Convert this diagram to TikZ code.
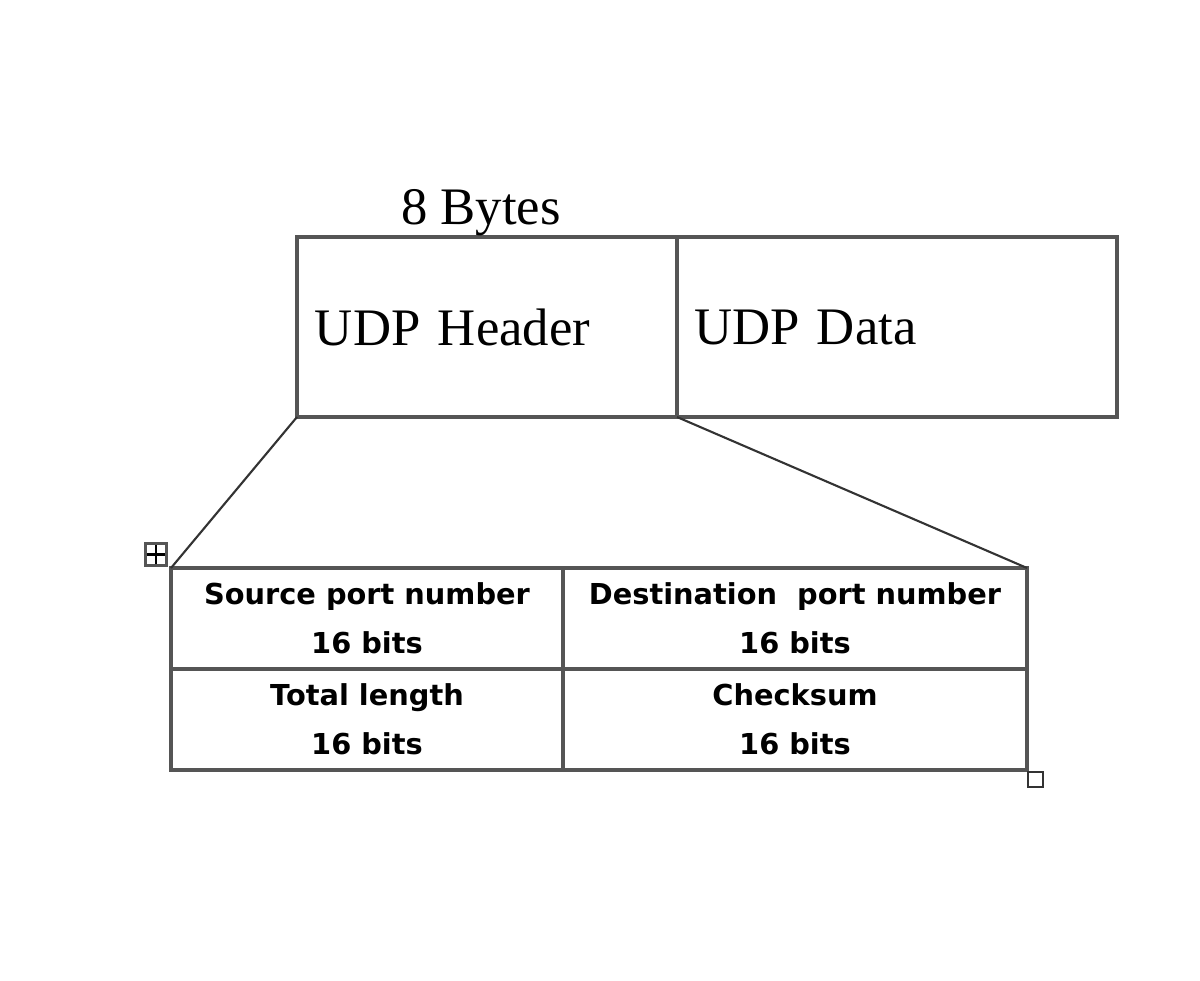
\documentclass[tikz,border=0pt]{standalone}
\usepackage{fontspec}
\setmainfont{Liberation Serif}
\newfontfamily\cellfont{DejaVu Sans}
\usepackage{tikz}
\usetikzlibrary{positioning}
\definecolor{boxline}{HTML}{555555}
\tikzset{
  field/.style={draw=boxline, line width=0.95pt, outer sep=0pt, minimum height=1.8cm,
    inner ysep=0pt, align=left, font=\fontsize{15}{18}\selectfont},
  cell/.style={draw=boxline, line width=0.95pt, outer sep=0pt, minimum height=1.01cm,
    inner sep=0pt, align=center, font=\cellfont\bfseries\fontsize{8.2}{14}\selectfont},
  zoomline/.style={draw=black!80, line width=0.6pt}
}
\begin{document}
\begin{tikzpicture}
\useasboundingbox (0,0) rectangle (12,-9.81);
\node[field, minimum width=3.8cm, text width=3.44cm, inner xsep=0.18cm] (hdr) at (4.87,-3.27) {UDP Header};
\node[field, minimum width=4.4cm, text width=4.06cm, inner xsep=0.17cm, right=0pt of hdr] (data) {UDP Data};
\node[font=\fontsize{15}{18}\selectfont, inner sep=0pt] (bytes) at (4.81,-2.13) {8 Bytes};
\node[cell, minimum width=3.92cm] (src) at (3.67,-6.185) {Source port number\\16 bits};
\node[cell, minimum width=4.64cm, right=0pt of src] (dst) {Destination\ \ port number\\16 bits};
\node[cell, minimum width=3.92cm, below=0pt of src] (len) {Total length\\16 bits};
\node[cell, minimum width=4.64cm, below=0pt of dst] (chk) {Checksum\\16 bits};
\draw[zoomline] (hdr.south west) -- (src.north west);
\draw[zoomline] (hdr.south east) -- (dst.north east);
\node[draw=boxline, line width=0.9pt, minimum width=0.21cm, minimum height=0.22cm, inner sep=0pt,
  anchor=south east, xshift=-0.03cm, yshift=0.01cm,
  path picture={\draw[black, line width=0.7pt] (path picture bounding box.north) -- (path picture bounding box.south)
    (path picture bounding box.west) -- (path picture bounding box.east);}] (movebox) at (src.north west) {};
\node[draw=black!80, line width=0.7pt, minimum size=0.15cm, inner sep=0pt, anchor=north west,
  yshift=-0.01cm] (sizebox) at (chk.south east) {};
\end{tikzpicture}
\end{document}
